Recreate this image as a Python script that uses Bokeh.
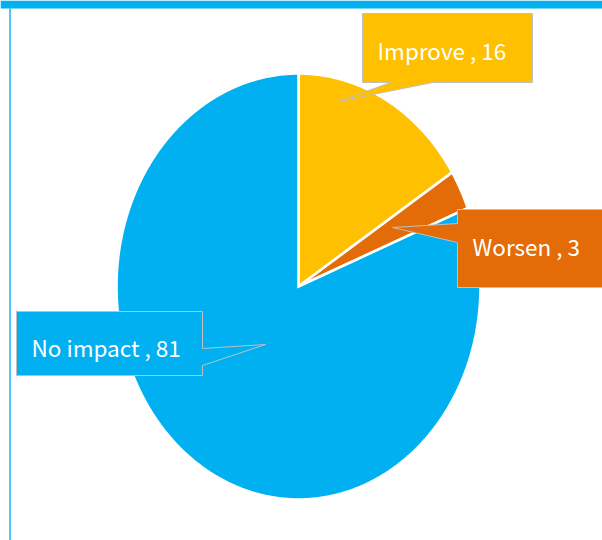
import numpy as np
from bokeh.plotting import figure
from bokeh.models import Range1d, ColumnDataSource
from bokeh.core.properties import value
from bokeh.embed import file_html
from bokeh.resources import INLINE

# ---- data ----
categories = ["Improve", "Worsen", "No impact"]
values = [16, 3, 81]
colors = ["#FFC000", "#E36C09", "#00B0F0"]

# ---- layout constants (pixel space, y down) ----
W, H = 602, 540
CX, CY = 298, 286
RX, RY = 182, 213
FONT = "Noto Sans CJK SC"

p = figure(width=W, height=H, x_range=Range1d(0, W), y_range=Range1d(H, 0),
           output_backend="svg", toolbar_location=None, min_border=0)
p.axis.visible = False
p.grid.visible = False
p.outline_line_color = None
p.background_fill_color = "white"
p.border_fill_color = "white"

# frame (top band + left rule)
p.quad(left=[0], right=[W], top=[0], bottom=[8], fill_color="#00B0F0", line_color=None)
p.quad(left=[8.8], right=[10.2], top=[8], bottom=[H], fill_color="#00B0F0", line_color=None)

# ---- pie slices: start at 12 o'clock, clockwise ----
vals = np.array(values, dtype=float)
fr = vals / vals.sum()
ends = np.cumsum(fr) * 2 * np.pi
starts = ends - fr * 2 * np.pi
xs, ys = [], []
for a0, a1 in zip(starts, ends):
    t = np.linspace(a0, a1, max(8, int((a1 - a0) * 120)))
    xs.append(np.concatenate([[CX], CX + RX * np.sin(t)]).tolist())
    ys.append(np.concatenate([[CY], CY - RY * np.cos(t)]).tolist())
p.patches(xs, ys, fill_color=colors, line_color="white", line_width=2.6, line_join="miter")

# ---- callout labels ----
labels = [f"{c} , {v}" for c, v in zip(categories, values)]
box_xs = [
    [362, 532, 532, 432, 338, 390, 362],
    [457, 612, 612, 457, 457, 392, 457],
    [16, 202, 202, 265, 202, 202, 16],
]
box_ys = [
    [13, 13, 82, 82, 101, 82, 82],
    [209, 209, 287, 287, 242, 227, 223],
    [311, 311, 348, 344, 365, 375, 375],
]
p.patches(box_xs, box_ys, fill_color=colors, line_color="#BFBFBF", line_width=1)

src = ColumnDataSource(dict(x=[377, 472, 31], y=[49, 245, 346], text=labels))
p.text("x", "y", text="text", source=src, text_color="white",
       text_font=value(FONT), text_font_size="22.5px",
       text_baseline="alphabetic", text_align="left")

open("out.html", "w").write(file_html(p, INLINE))
